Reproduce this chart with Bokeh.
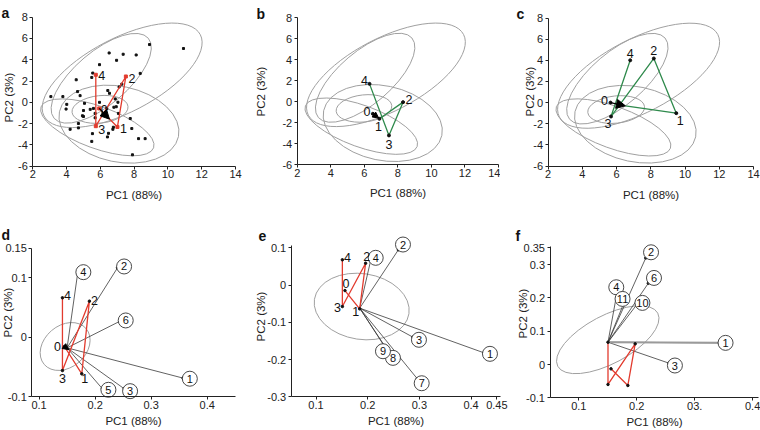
import numpy as np
from bokeh.plotting import figure
from bokeh.models import Range1d, FixedTicker, Arrow, NormalHead
from bokeh.layouts import row, column
from bokeh.embed import file_html
from bokeh.resources import INLINE
from bokeh.core.properties import value

FONT = "Liberation Sans"
DASH = "-"
RED = "#e23b2e"
GREEN = "#2f8a4c"
GRAY = "#a0a0a0"
INK = "#222222"

# ---------------- data ----------------
a_sx = [10.92, 8.91, 6.52, 7.35, 8.12, 6.96, 5.95, 8.36, 5.55, 5.49, 4.57, 7.27, 7.11, 6.44, 6.54,
        4.65, 4.80, 3.78, 3.07, 4.01, 3.97, 5.06, 5.95, 6.88, 6.94, 5.59, 5.40, 5.69, 6.15, 4.94,
        5.69, 4.70, 7.77, 4.21, 4.70, 6.74, 6.48, 6.42, 5.53, 5.49, 7.86, 8.26, 8.65, 7.90, 7.07,
        6.38, 6.80, 7.04, 5.00, 5.00, 6.77]
a_sy = [5.06, 5.43, 4.64, 4.52, 4.45, 3.95, 3.54, 2.72, 2.75, 2.34, 2.12, 1.71, 1.45, 1.11, 0.85,
        1.01, 0.63, 0.54, 0.54, -0.19, -0.63, -0.09, 0.00, 0.32, -0.41, -0.57, -0.66, -1.04, -1.04, -1.26,
        -1.45, -1.99, -1.52, -2.53, -2.40, -2.53, -2.91, -3.25, -2.94, -3.67, -2.46, -3.41, -3.41, -4.93, -1.04,
        -0.57, -0.46, 0.01, -0.77, -1.33, -2.34]

# group ellipses shared by panels a-c (centre, width, height, angle in degrees)
ell_x = [7.29, 6.05, 5.98, 5.82, 7.10]
ell_y = [2.54, 2.26, -0.66, -2.35, -2.05]
ell_w = [10.43, 7.32, 3.33, 7.09, 7.20]
ell_h = [6.95, 4.99, 2.58, 3.95, 7.10]
ell_a = [27.5, 40.4, 6.0, -20.0, -11.8]

step_labels = ["0", "1", "2", "3", "4"]

a_px = [5.93, 7.01, 7.51, 5.73, 5.73]
a_py = [-0.57, -2.31, 2.43, -2.24, 2.59]
a_arrow = [5.93, -0.57, 6.54, -1.58]

b_px = [6.51, 6.90, 8.31, 7.47, 6.31]
b_py = [-1.17, -1.65, -0.06, -3.23, 1.68]
b_arrow = [6.51, -1.17, 6.86, -1.58]

c_px = [5.65, 9.49, 8.18, 5.68, 6.80]
c_py = [0.00, -1.00, 4.17, -1.32, 4.00]
c_arrow = [5.65, 0.00, 6.52, -0.31]

d_px = [0.1453, 0.1762, 0.1898, 0.1417, 0.1417]
d_py = [-0.0157, -0.0618, 0.0607, -0.0562, 0.0664]
d_arrow = [0.1453, -0.0157, 0.1530, -0.0210]
d_ell = [0.1465, -0.0157, 0.0984, 0.0705, 40.6]
d_origin = [0.150, -0.018]
d_vec_lab = ["1", "2", "3", "4", "5", "6"]
d_vec_x = [0.357, 0.240, 0.252, 0.169, 0.213, 0.2445]
d_vec_y = [-0.069, 0.117, -0.087, 0.1086, -0.087, 0.027]
d_cir_x = [0.369, 0.2517, 0.2624, 0.179, 0.2237, 0.2546]
d_cir_y = [-0.070, 0.1192, -0.091, 0.1096, -0.0887, 0.0282]

e_px = [0.156, 0.1845, 0.196, 0.151, 0.151]
e_py = [-0.0148, -0.064, 0.0585, -0.0577, 0.0677]
e_ell = [0.1884, -0.0577, 0.185, 0.1766, -8.7]
e_origin = [0.1845, -0.062]
e_vec_lab = ["1", "2", "3", "4", "7", "8", "9"]
e_vec_x = [0.425, 0.2594, 0.2876, 0.2058, 0.2961, 0.2412, 0.2335]
e_vec_y = [-0.182, 0.0945, -0.140, 0.0658, -0.2518, -0.183, -0.165]
e_cir_x = [0.4366, 0.2683, 0.2992, 0.2155, 0.3045, 0.2489, 0.2296]
e_cir_y = [-0.1847, 0.1087, -0.147, 0.073, -0.2636, -0.1955, -0.1777]

f_px = [0.1556, 0.1847, 0.1973, 0.1504, 0.1504]
f_py = [-0.013, -0.063, 0.062, -0.060, 0.067]
f_ell = [0.150, 0.0745, 0.1955, 0.144, 28.0]
f_origin = [0.1504, 0.067]
f_vec_lab = ["1", "2", "3", "4", "6", "10", "11"]
f_vec_x = [0.343, 0.2156, 0.2556, 0.1658, 0.220, 0.2002, 0.1772]
f_vec_y = [0.065, 0.320, 0.004, 0.214, 0.244, 0.180, 0.182]
f_cir_x = [0.3533, 0.2247, 0.2659, 0.1647, 0.2298, 0.2098, 0.1755]
f_cir_y = [0.065, 0.337, -0.003, 0.232, 0.260, 0.185, 0.197]

abc_bounds = (2, 14, -6, 8)
abc_xticks = [2, 4, 6, 8, 10, 12, 14]
abc_yticks = [-6, -4, -2, 0, 2, 4, 6, 8]
d_bounds = (0.087, 0.45, -0.1, 0.15)
d_xticks = [0.1, 0.2, 0.3, 0.4]
d_yticks = [-0.1, 0, 0.1, 0.15]
e_bounds = (0.052, 0.457, -0.3, 0.105)
e_xticks = [0.1, 0.2, 0.3, 0.4, 0.45]
e_yticks = [-0.3, -0.2, -0.1, 0, 0.1]
f_bounds = (0.0503, 0.41, -0.1, 0.355)
f_xticks = [0.1, 0.2, 0.3, 0.4]
f_xlabels = ["0.1", "0.2", "03.", "0.4"]
f_yticks = [-0.1, 0, 0.1, 0.2, 0.3, 0.35]


def fmt(v):
    s = "%g" % abs(v)
    return (DASH + s) if v < 0 else s


class Panel:
    """A figure whose frame fills the whole canvas; axes are pinned with fixed_location."""

    def __init__(self, box, axis_px, bounds, xticks, yticks, xlabels=None, letter="a",
                 letter_px=(0, 0), ylab_px=(0, 0), xstand=(1, 4)):
        L, T, W, H = box
        x0, x1, y0, y1 = bounds
        ax0, ax1, ay0, ay1 = axis_px  # screen px of x0, x1, y0 (bottom), y1 (top)
        self.sx = (ax1 - ax0) / (x1 - x0)
        self.sy = (ay0 - ay1) / (y1 - y0)
        self.X = lambda px: x0 + (px - ax0) / self.sx
        self.Y = lambda py: y1 - (py - ay1) / self.sy
        p = figure(width=W, height=H,
                   x_range=Range1d(self.X(L), self.X(L + W)),
                   y_range=Range1d(self.Y(T + H), self.Y(T)),
                   output_backend="svg", toolbar_location=None, tools="",
                   min_border=0, min_border_left=0, min_border_right=0,
                   min_border_top=0, min_border_bottom=0)
        p.grid.visible = False
        p.outline_line_color = None
        for ax in (p.xaxis[0], p.yaxis[0]):
            ax.major_tick_in = 0
            ax.major_tick_out = 3
            ax.minor_tick_line_color = None
            ax.axis_line_color = INK
            ax.major_tick_line_color = INK
            ax.major_label_text_font = FONT
            ax.major_label_text_font_size = "11px"
            ax.major_label_text_color = INK
        p.yaxis.major_label_standoff = 2
        p.xaxis.major_label_standoff = xstand[0]
        p.xaxis.fixed_location = y0
        p.xaxis.bounds = (x0, x1)
        p.yaxis.fixed_location = x0
        p.yaxis.bounds = (y0, y1)
        p.xaxis.ticker = FixedTicker(ticks=xticks)
        if xlabels is None:
            xlabels = [fmt(v) for v in xticks]
        p.xaxis.major_label_overrides = {v: s for v, s in zip(xticks, xlabels)}
        p.yaxis.ticker = FixedTicker(ticks=yticks)
        p.yaxis.major_label_overrides = {v: fmt(v) for v in yticks}
        p.xaxis.axis_label = "PC1 (88%)"
        p.xaxis.axis_label_text_font = FONT
        p.xaxis.axis_label_text_font_size = "11.5px"
        p.xaxis.axis_label_text_font_style = "normal"
        p.xaxis.axis_label_text_color = INK
        p.xaxis.axis_label_standoff = xstand[1]
        p.text(x=[self.X(ylab_px[0])], y=[self.Y(ylab_px[1])], text=["PC2 (3%)"], angle=90,
               angle_units="deg", text_align="center", text_baseline="middle",
               text_font=value(FONT), text_font_size="11.5px", text_color=INK)
        p.text(x=[self.X(letter_px[0])], y=[self.Y(letter_px[1])], text=[letter],
               text_align="left", text_baseline="alphabetic", text_font=value(FONT),
               text_font_size="14px", text_font_style="bold", text_color="#111")
        self.p = p


def ellipses(p, x, y, w, h, a):
    p.ellipse(x=x, y=y, width=w, height=h, angle=a, angle_units="deg",
              fill_color=None, line_color=GRAY, line_width=1)


def step_text(p, xs, ys, dx, dy):
    p.text(x=xs, y=ys, text=step_labels, x_offset=dx, y_offset=dy, text_align="center",
           text_baseline="middle", text_font=value(FONT), text_font_size="12.5px", text_color="#111")


def arrow(p, a, size):
    p.add_layout(Arrow(end=NormalHead(size=size, fill_color="black", line_color="black"),
                       x_start=a[0], y_start=a[1], x_end=a[2], y_end=a[3],
                       line_color="black", line_width=1.2))


def vectors(p, origin, vx, vy, cx, cy, labs, first_gray=False):
    ox = [origin[0]] * len(vx)
    oy = [origin[1]] * len(vy)
    p.segment(x0=ox, y0=oy, x1=vx, y1=vy, line_color="#3a3a3a", line_width=0.8)
    if first_gray:
        p.segment(x0=ox[:1], y0=oy[:1], x1=vx[:1], y1=vy[:1], line_color="#9a9a9a", line_width=2)
    p.scatter(vx, vy, size=2.5, color="#222")
    p.scatter(cx, cy, marker="circle", size=15, fill_color="white", line_color="#333", line_width=0.9)
    p.text(x=cx, y=cy, text=labs, text_align="center", text_baseline="middle",
           text_font=value(FONT), text_font_size="11px", text_color="#111")


R1 = (1, 7)   # x tick label standoff, x axis label standoff (row 1)
R2 = (1, 3)   # (row 2)

# ---------------- row 1 (screen y 0..210) ----------------
A = Panel((0, 0, 250, 210), (32.3, 235, 165.7, 16.7), abc_bounds, abc_xticks, abc_yticks,
          letter="a", letter_px=(1, 12), ylab_px=(8, 97), xstand=R1)
pa = A.p
ellipses(pa, ell_x, ell_y, ell_w, ell_h, ell_a)
pa.scatter(a_sx, a_sy, marker="square", size=2, color="#111")
pa.line(a_px, a_py, line_color=RED, line_width=1.3)
pa.scatter(a_px, a_py, marker="square", size=3, color=RED)
arrow(pa, a_arrow, 9)
step_text(pa, a_px, a_py, [5, 6, 6, 6, 6], [1, 2, 2, 3, 1])

B = Panel((250, 0, 250, 210), (296.7, 498, 164, 17), abc_bounds, abc_xticks, abc_yticks,
          letter="b", letter_px=(256, 13), ylab_px=(260, 91), xstand=R1)
pb = B.p
ellipses(pb, ell_x, ell_y, ell_w, ell_h, ell_a)
pb.line(b_px[1:], b_py[1:], line_color=GREEN, line_width=1.3)
pb.scatter(b_px, b_py, size=3, color="#111")
arrow(pb, b_arrow, 6)
step_text(pb, b_px, b_py, [-6, -1, 6, 0, -5], [-2, 8, -3, 9, -3])

C = Panel((500, 0, 260, 210), (547.5, 753, 165.5, 17.5), abc_bounds, abc_xticks, abc_yticks,
          letter="c", letter_px=(516, 13), ylab_px=(529, 91), xstand=R1)
pc = C.p
ellipses(pc, ell_x, ell_y, ell_w, ell_h, ell_a)
pc.line([c_arrow[2]] + c_px[1:], [c_arrow[3]] + c_py[1:], line_color=GREEN, line_width=1.3)
pc.scatter(c_px, c_py, size=3, color="#111")
arrow(pc, c_arrow, 9)
step_text(pc, c_px, c_py, [-6, 4, 0, -3, 0], [-2, 7, -8, 7, -7])

# ---------------- row 2 (screen y 210..430) ----------------
D = Panel((0, 210, 250, 220), (31.3, 234.7, 396, 247.7), d_bounds, d_xticks, d_yticks,
          letter="d", letter_px=(1, 234), ylab_px=(7, 312), xstand=R2)
pd = D.p
pd.ellipse(x=[d_ell[0]], y=[d_ell[1]], width=[d_ell[2]], height=[d_ell[3]], angle=[d_ell[4]],
           angle_units="deg", fill_color=None, line_color=GRAY, line_width=1)
vectors(pd, d_origin, d_vec_x, d_vec_y, d_cir_x, d_cir_y, d_vec_lab)
pd.line(d_px, d_py, line_color=RED, line_width=1.3)
pd.scatter(d_px, d_py, size=2.5, color="#111")
arrow(pd, d_arrow, 6)
step_text(pd, d_px, d_py, [-7, 3, 5, 0, 5], [0, 5, -1, 8, -2])

E = Panel((250, 210, 258, 220), (290.7, 500, 396.3, 245.4), e_bounds, e_xticks, e_yticks,
          letter="e", letter_px=(258, 235), ylab_px=(260, 316), xstand=R2)
pe = E.p
pe.ellipse(x=[e_ell[0]], y=[e_ell[1]], width=[e_ell[2]], height=[e_ell[3]], angle=[e_ell[4]],
           angle_units="deg", fill_color=None, line_color=GRAY, line_width=1)
vectors(pe, e_origin, e_vec_x, e_vec_y, e_cir_x, e_cir_y, e_vec_lab)
pe.line(e_px, e_py, line_color=RED, line_width=1.3)
pe.scatter(e_px, e_py, size=2.5, color="#111")
step_text(pe, e_px, e_py, [1, -4, 1, -5, 5], [-7, 3, -7, 1, -2])

F = Panel((508, 210, 252, 220), (549.5, 757.9, 397.3, 245.8), f_bounds,
          f_xticks, f_yticks, xlabels=f_xlabels, letter="f", letter_px=(515, 235),
          ylab_px=(522, 313), xstand=R2)
pf = F.p
pf.ellipse(x=[f_ell[0]], y=[f_ell[1]], width=[f_ell[2]], height=[f_ell[3]], angle=[f_ell[4]],
           angle_units="deg", fill_color=None, line_color=GRAY, line_width=1)
vectors(pf, f_origin, f_vec_x, f_vec_y, f_cir_x, f_cir_y, f_vec_lab, first_gray=True)
pf.line(f_px, f_py, line_color=RED, line_width=1.3)
pf.scatter(f_px, f_py, size=2.5, color="#111")

layout = column(row(pa, pb, pc), row(pd, pe, pf))
open("out.html", "w").write(file_html(layout, INLINE))
